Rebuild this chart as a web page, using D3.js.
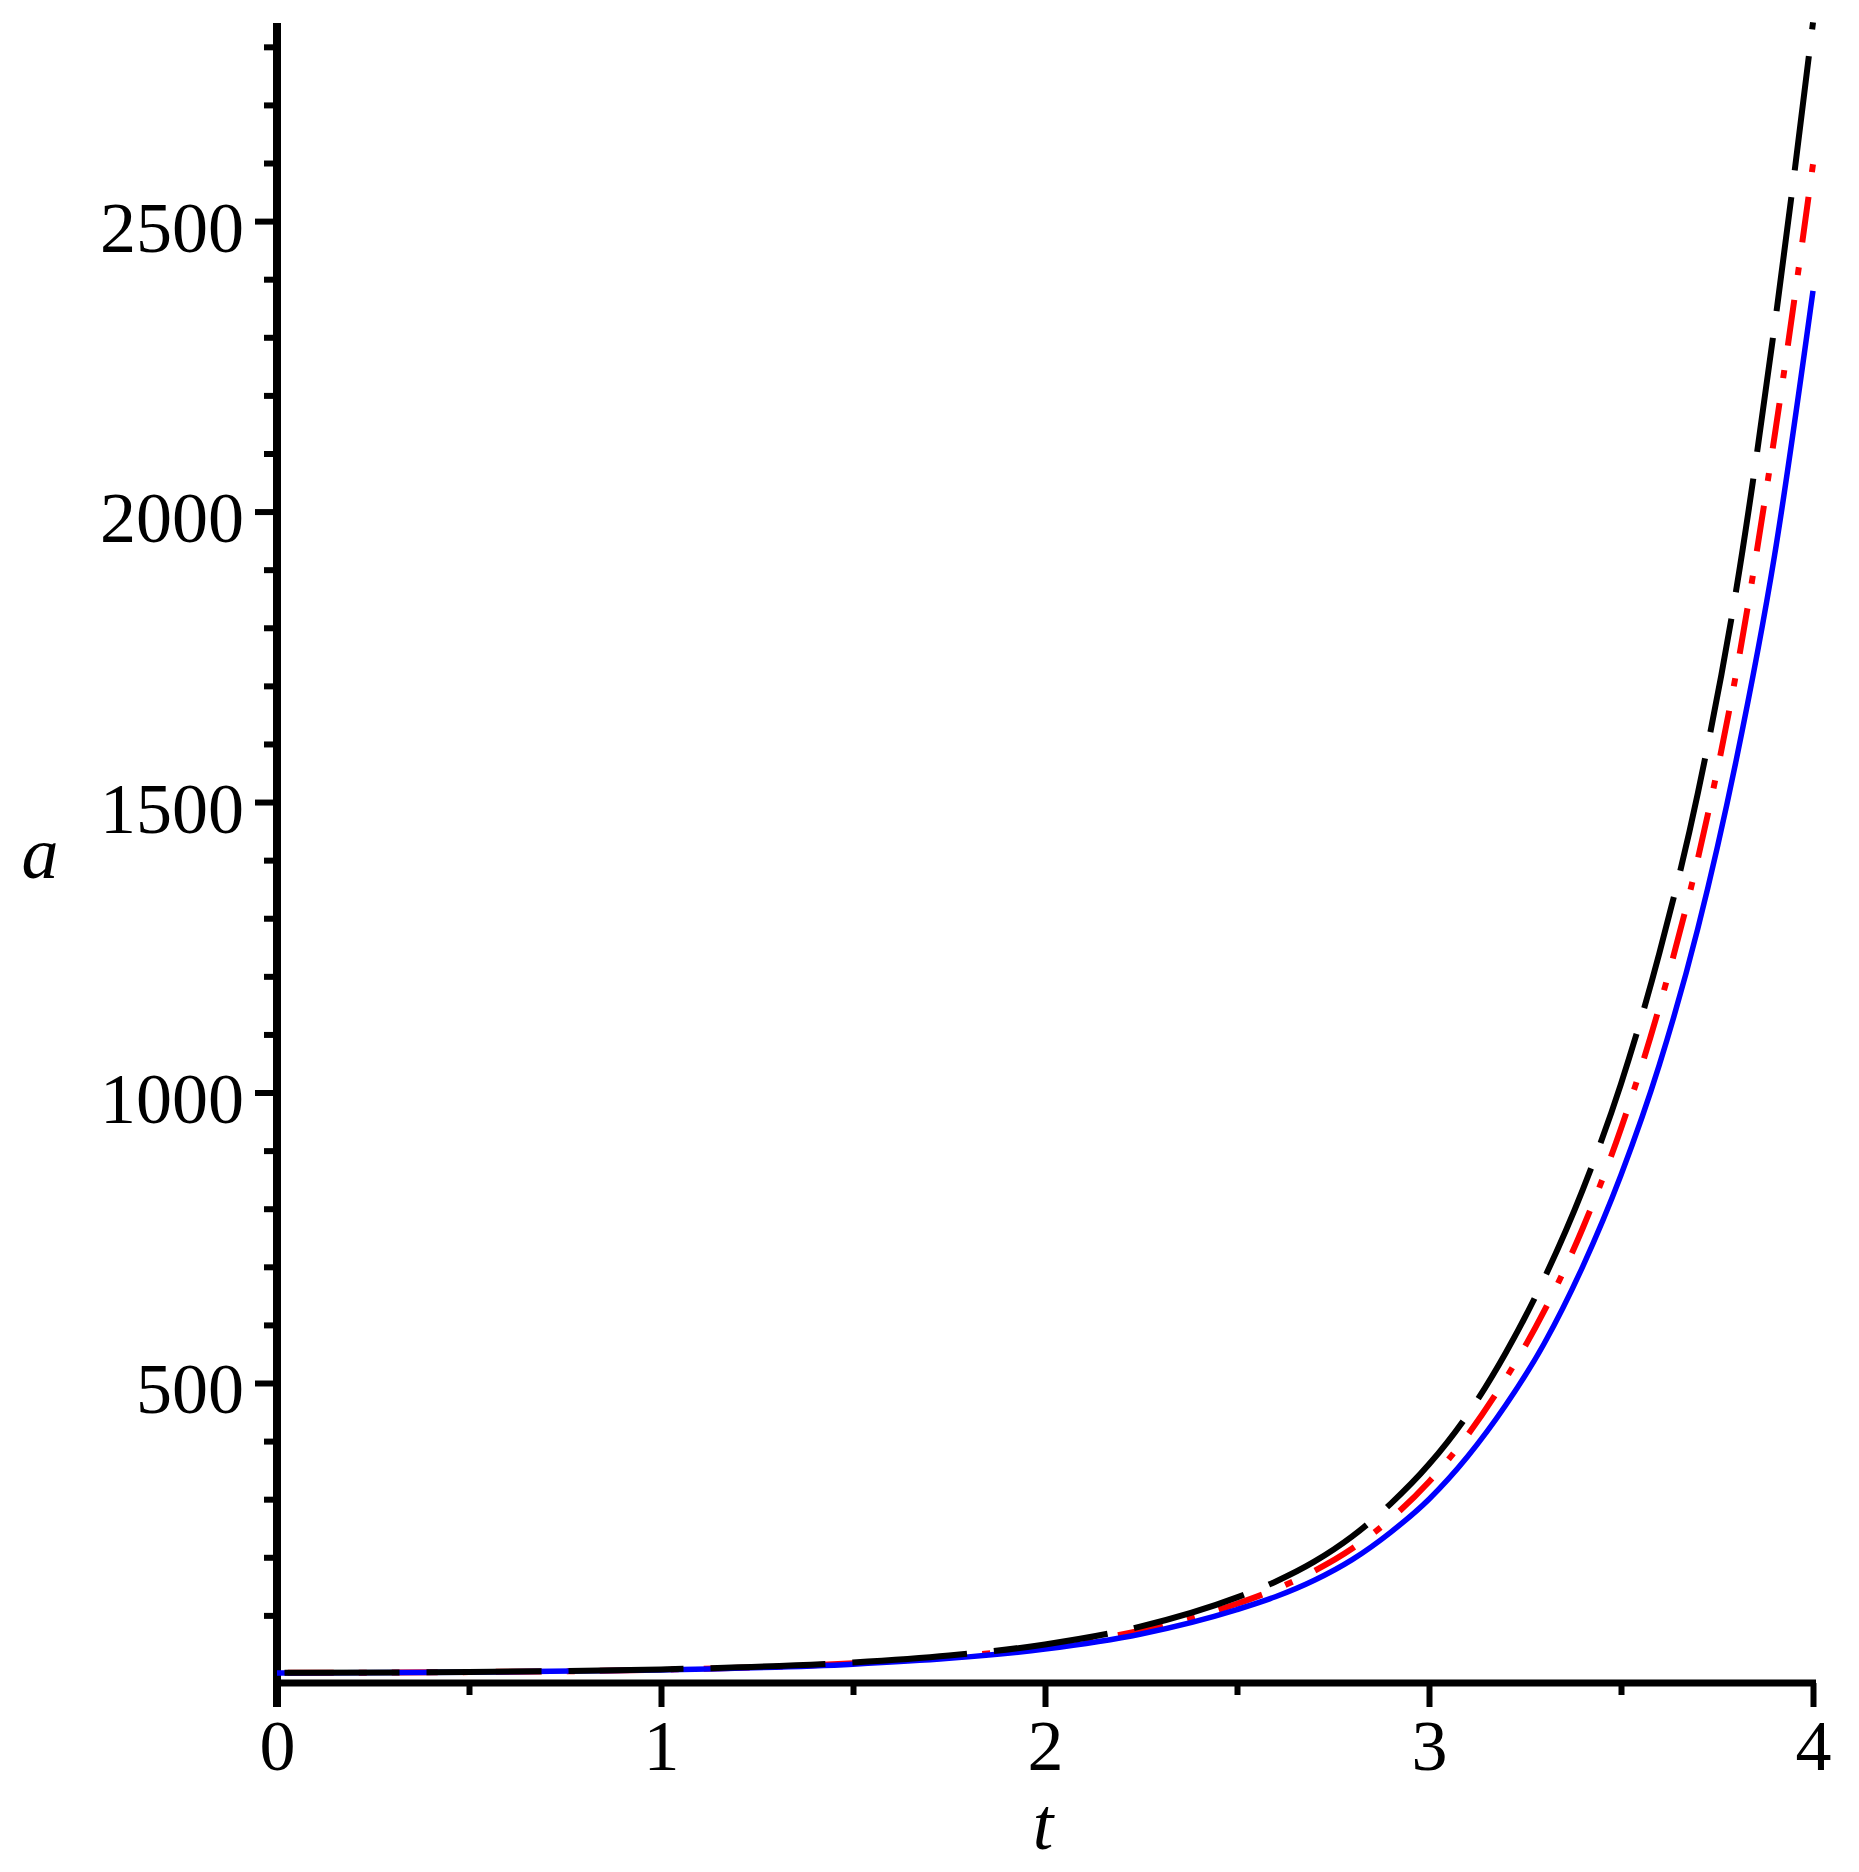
<!DOCTYPE html>
<html>
<head>
<meta charset="utf-8">
<script src="https://cdn.jsdelivr.net/npm/d3@7"></script>
<style>
  html, body { margin: 0; padding: 0; background: #ffffff; }
  svg { display: block; }
  text { font-family: "Liberation Serif", "Times New Roman", serif; fill: #000; }
</style>
</head>
<body>
<script>
// ---- data ----
const tVals     = [0, 0.5, 1, 1.5, 1.75, 2, 2.25, 2.5, 2.6, 2.7, 2.8, 2.9, 3, 3.1, 3.2, 3.3, 3.4, 3.5, 3.6, 3.7, 3.8, 3.9, 4];
const blueVals  = [1.0, 2.2, 6.0, 16, 26, 42, 68, 110, 132, 160, 196, 243, 300, 373, 462, 568, 700, 858, 1048, 1282, 1572, 1925, 2380];
const redVals   = [1.05, 2.4, 6.5, 17.5, 28.5, 46, 74, 120, 145, 176, 215, 266, 330, 410, 508, 624, 766, 938, 1148, 1402, 1722, 2130, 2598];
const blackVals = [1.1, 2.6, 7.0, 19, 31, 50, 81, 131, 158, 192, 236, 292, 360, 445, 552, 680, 832, 1015, 1240, 1515, 1865, 2320, 2842];

const xMajorTicks = [0, 1, 2, 3, 4];
const xMinorTicks = [0.5, 1.5, 2.5, 3.5];
const yMajorTicks = [500, 1000, 1500, 2000, 2500];
const yMinorTicks = [100, 200, 300, 400, 600, 700, 800, 900, 1100, 1200, 1300, 1400,
                     1600, 1700, 1800, 1900, 2100, 2200, 2300, 2400, 2600, 2700, 2800];
const xDomain = [0, 4];
const yDomain = [-16.4, 2841];
const xLabel = "t";
const yLabel = "a";

// ---- layout ----
const W = 1859, H = 1872;
const x = d3.scaleLinear().domain(xDomain).range([277, 1813]);
const y = d3.scaleLinear().domain(yDomain).range([1683, 23]);

const svg = d3.select("body").append("svg").attr("width", W).attr("height", H);

// ---- axes ----
const axisY0 = y(yDomain[0]);
const gx = svg.append("g").attr("transform", `translate(0,${axisY0})`);
gx.append("g").call(d3.axisBottom(x).tickValues(xMinorTicks).tickSize(12).tickFormat(""));
gx.append("g").call(d3.axisBottom(x).tickValues(xMajorTicks).tickSize(24).tickFormat(d3.format("d")));
gx.selectAll(".domain").remove();
gx.selectAll(".tick line").attr("stroke", "#000").attr("stroke-width", 6);
gx.selectAll(".tick text")
  .attr("y", 87).attr("dy", null)
  .style("font-size", "72px");

const gy = svg.append("g").attr("transform", `translate(${x(0)},0)`);
gy.append("g").call(d3.axisLeft(y).tickValues(yMinorTicks).tickSize(13).tickFormat(""));
gy.append("g").call(d3.axisLeft(y).tickValues(yMajorTicks).tickSize(22).tickFormat(d3.format("d")));
gy.selectAll(".domain").remove();
gy.selectAll(".tick line").attr("stroke", "#000").attr("stroke-width", 6);
gy.selectAll(".tick text")
  .attr("x", -33).attr("y", 30).attr("dy", null)
  .attr("text-anchor", "end")
  .style("font-size", "72px");

// axis lines
svg.append("line")
  .attr("x1", x(0)).attr("x2", x(0))
  .attr("y1", y(yDomain[1])).attr("y2", axisY0 + 24)
  .attr("stroke", "#000").attr("stroke-width", 8);
svg.append("line")
  .attr("x1", x(0)).attr("x2", x(4) + 3)
  .attr("y1", axisY0).attr("y2", axisY0)
  .attr("stroke", "#000").attr("stroke-width", 7);

// axis labels
svg.append("text").attr("x", 40).attr("y", 878)
  .attr("text-anchor", "middle")
  .style("font-size", "74px").style("font-style", "italic")
  .text(yLabel);
svg.append("text").attr("x", 1043).attr("y", 1849)
  .attr("text-anchor", "middle")
  .style("font-size", "74px").style("font-style", "italic")
  .text(xLabel);

// ---- curves ----
const line = d3.line()
  .x(d => x(d[0]))
  .y(d => y(d[1]))
  .curve(d3.curveMonotoneX);

function pts(vals) { return tVals.map((t, i) => [t, vals[i]]); }

const red = svg.append("path").datum(pts(redVals))
  .attr("d", line).attr("fill", "none")
  .attr("stroke", "#ff0000").attr("stroke-width", 6)
  .attr("stroke-dasharray", "46,25,8,25");
const blue = svg.append("path").datum(pts(blueVals))
  .attr("d", line).attr("fill", "none")
  .attr("stroke", "#0000ff").attr("stroke-width", 5.5);
const black = svg.append("path").datum(pts(blackVals))
  .attr("d", line).attr("fill", "none")
  .attr("stroke", "#000000").attr("stroke-width", 6)
  .attr("stroke-dasharray", "115,27");

// align dash phase so that each pattern ends as in the reference
(function () {
  const Lb = black.node().getTotalLength();
  const Pb = 142;
  const offB = ((Pb - ((Lb - 7) % Pb)) % Pb + Pb) % Pb;
  black.attr("stroke-dashoffset", offB);
  const Lr = red.node().getTotalLength();
  const Pr = 104;
  const offR = (((71 - (Lr - 8)) % Pr) + Pr) % Pr;
  red.attr("stroke-dashoffset", offR);
})();
</script>
</body>
</html>
